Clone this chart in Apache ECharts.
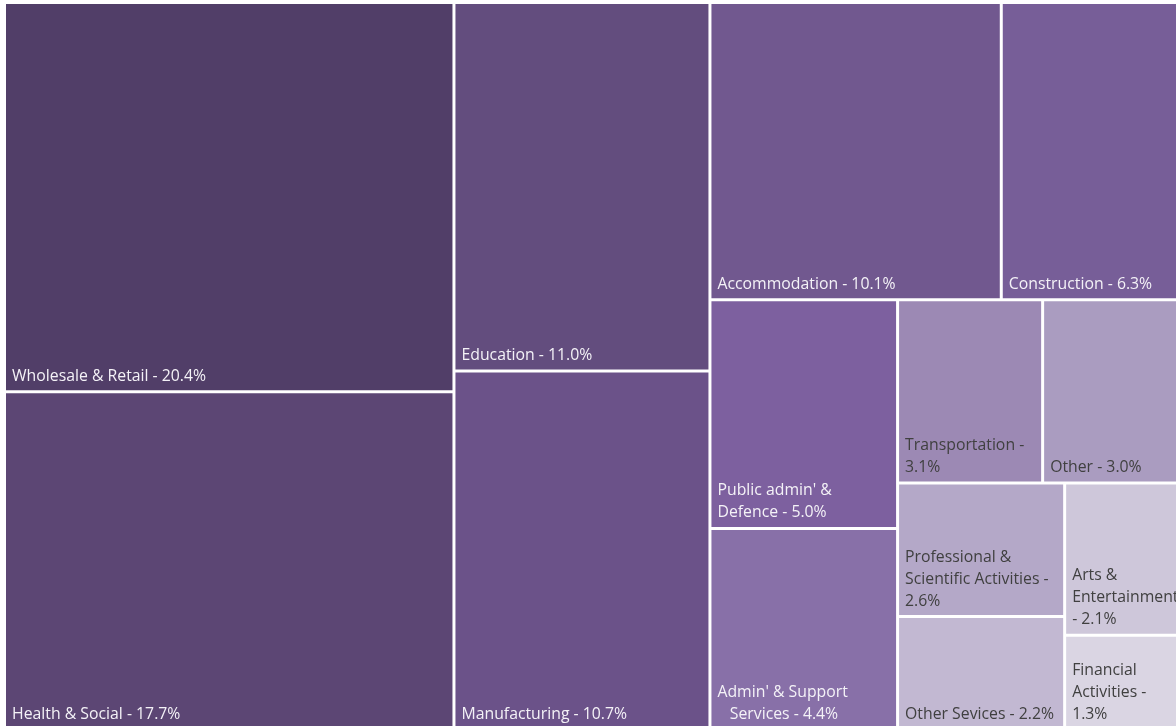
<!DOCTYPE html>
<html lang="en">
<head>
    <meta charset="UTF-8">
    <title>Sector share treemap</title>
    <script src="https://cdn.jsdelivr.net/npm/echarts@6/dist/echarts.min.js"></script>
    <style>
        html, body { margin: 0; padding: 0; background: #ffffff; }
        #chart { width: 1176px; height: 726px; }
    </style>
</head>
<body>
<div id="chart"></div>
<script>
    // sectors, share in %
    var sectors = ['Wholesale & Retail', 'Health & Social', 'Education', 'Manufacturing',
        'Accommodation', 'Construction', "Public admin' & Defence", "Admin' & Support Services",
        'Transportation', 'Other', 'Professional & Scientific Activities', 'Other Sevices',
        'Arts & Entertainment', 'Financial Activities'];
    var shares = [20.4, 17.7, 11.0, 10.7, 10.1, 6.3, 5.0, 4.4, 3.1, 3.0, 2.6, 2.2, 2.1, 1.3];

    // label text as wrapped in the original, {v} = share
    var labelText = ['Wholesale & Retail - {v}%', 'Health & Social - {v}%', 'Education - {v}%',
        'Manufacturing - {v}%', 'Accommodation - {v}%', 'Construction - {v}%',
        "Public admin' &\nDefence - {v}%", "Admin' & Support\n   Services - {v}%",
        'Transportation -\n{v}%', 'Other - {v}%', 'Professional &\nScientific Activities -\n{v}%',
        'Other Sevices - {v}%', 'Arts &\nEntertainment\n- {v}%', 'Financial\nActivities -\n{v}%'];

    // how the cells pair up (indices into sectors)
    var grouping = [[0, 1], [[2, 3], [[4, 5], [[6, 7], [[8, 9], [[10, 11], [12, 13]]]]]]];

    var cellColors = ['#513e68', '#5c4674', '#634d7e', '#6b5289', '#71588f', '#775e98', '#7d609f',
        '#8870a8', '#9c89b4', '#aa9cc0', '#b4a8c8', '#c2b8d2', '#cec7da', '#dad5e3'];
    var labelColors = ['#f4f2f7', '#f4f2f7', '#f4f2f7', '#f4f2f7', '#f4f2f7', '#f4f2f7', '#f4f2f7',
        '#f4f2f7', '#404040', '#404040', '#404040', '#404040', '#404040', '#404040'];

    function build(node) {
        if (typeof node === 'number') {
            return {
                name: sectors[node],
                value: shares[node],
                idx: node,
                itemStyle: { color: cellColors[node], borderWidth: 1.5, borderColor: '#ffffff' },
                label: { color: labelColors[node] }
            };
        }
        return { name: '', children: node.map(build) };
    }

    var chart = echarts.init(document.getElementById('chart'));
    chart.setOption({
        animation: false,
        tooltip: { show: false },
        series: [{
            type: 'treemap',
            // the plot runs a little past the right and bottom edge
            left: 4.5,
            top: 2.5,
            width: 1178.5,
            height: 727,
            sort: false,
            squareRatio: 1,
            roam: false,
            nodeClick: false,
            breadcrumb: { show: false },
            itemStyle: { borderWidth: 0, gapWidth: 0, borderColor: '#ffffff' },
            upperLabel: { show: false },
            label: {
                show: true,
                position: 'insideBottomLeft',
                distance: 0,
                padding: [0, 0, 3, 6],
                overflow: 'none',
                fontFamily: 'Open Sans',
                fontSize: 15.8,
                lineHeight: 22,
                formatter: function (p) {
                    var i = p.data.idx;
                    return labelText[i].replace('{v}', shares[i].toFixed(1));
                }
            },
            emphasis: { disabled: true },
            data: grouping.map(build)
        }]
    });
</script>
</body>
</html>
